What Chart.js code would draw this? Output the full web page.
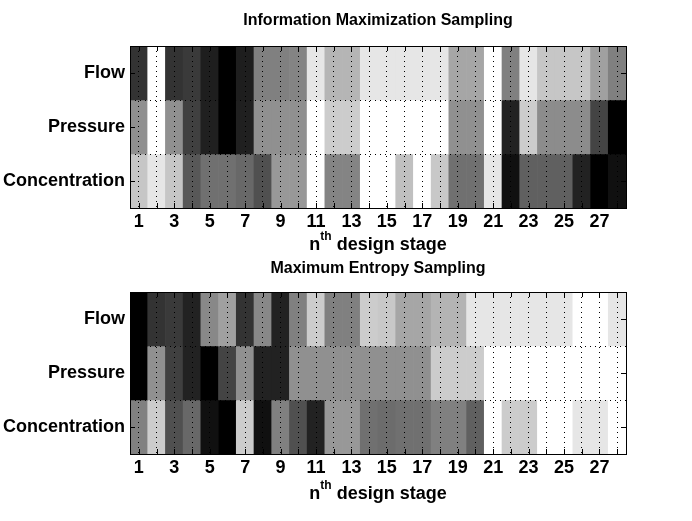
<!DOCTYPE html>
<html>
<head>
<meta charset="utf-8">
<script src="https://cdn.jsdelivr.net/npm/chart.js@4.4.1/dist/chart.umd.min.js"></script>
<style>
  html, body { margin: 0; padding: 0; background: #fff; }
  canvas { display: block; }
</style>
</head>
<body>
<canvas id="imsChart" width="692" height="255"></canvas>
<canvas id="mesChart" width="692" height="266"></canvas>
<script>
// design stages (x categories) and rows (y categories)
const stages = ['1','2','3','4','5','6','7','8','9','10','11','12','13','14',
                '15','16','17','18','19','20','21','22','23','24','25','26','27','28'];
const rowLabels = ['Flow', 'Pressure', 'Concentration'];

// gray level per cell (0 = black, 255 = white)
// Information Maximization Sampling
const imsFlow          = [51,255,51,58,30,0,30,128,128,132,230,181,181,230,230,230,230,230,166,166,255,128,230,198,198,198,160,128];
const imsPressure      = [144,255,144,64,32,0,32,144,144,144,255,204,204,255,255,255,255,255,144,144,255,34,204,140,140,140,68,0];
const imsConcentration = [198,230,198,88,112,112,104,80,152,152,255,132,132,255,255,192,255,200,112,112,230,16,96,96,96,34,0,16];

// Maximum Entropy Sampling
const mesFlow          = [0,51,58,34,136,160,51,136,34,128,204,128,128,204,200,166,166,180,180,230,230,230,230,230,230,255,255,230];
const mesPressure      = [0,144,64,34,0,68,144,34,34,144,144,144,144,144,144,144,144,204,204,204,255,255,255,255,255,255,255,255];
const mesConcentration = [128,204,80,104,16,0,204,16,128,80,34,152,152,112,108,112,112,128,128,96,255,204,204,255,255,230,230,255];

const FONT = '"Liberation Sans", Arial, Helvetica, sans-serif';

// box, inward tick marks, title and x label (MATLAB look)
const framePlugin = {
  id: 'frame',
  afterDraw(chart, args, opts) {
    const ctx = chart.ctx;
    const a = chart.chartArea;
    const x = chart.scales.x, y = chart.scales.y;
    ctx.save();
    ctx.strokeStyle = '#000';
    ctx.lineWidth = 1;
    ctx.beginPath();
    x.ticks.forEach((t, i) => {
      const px = Math.round(x.getPixelForTick(i)) + 0.5;
      ctx.moveTo(px, a.top); ctx.lineTo(px, a.top + 5);
      ctx.moveTo(px, a.bottom); ctx.lineTo(px, a.bottom - 5);
    });
    [1, 2, 3].forEach(v => {
      const py = Math.round(y.getPixelForValue(v)) + 0.5;
      ctx.moveTo(a.left, py); ctx.lineTo(a.left + 5, py);
      ctx.moveTo(a.right, py); ctx.lineTo(a.right - 5, py);
    });
    ctx.stroke();
    ctx.strokeRect(Math.round(a.left) + 0.5, Math.round(a.top) + 0.5,
                   Math.round(a.right - a.left), Math.round(a.bottom - a.top));

    const cx = (a.left + a.right) / 2;
    ctx.fillStyle = '#000';
    ctx.textBaseline = 'middle';
    ctx.textAlign = 'center';
    ctx.font = 'bold 16px ' + FONT;
    ctx.fillText(opts.title, cx, a.top - opts.titleGap);

    // "n^th design stage"
    const big = 'bold 18px ' + FONT, small = 'bold 12px ' + FONT;
    ctx.font = big;
    const wN = ctx.measureText('n').width;
    const wRest = ctx.measureText(' design stage').width;
    ctx.font = small;
    const wTh = ctx.measureText('th').width;
    const sx = cx - (wN + wTh + wRest) / 2;
    const ly = a.bottom + opts.labelGap;
    ctx.textAlign = 'left';
    ctx.font = big;
    ctx.fillText('n', sx, ly);
    ctx.font = small;
    ctx.fillText('th', sx + wN, ly - 8);
    ctx.font = big;
    ctx.fillText(' design stage', sx + wN + wTh, ly);
    ctx.restore();
  }
};

function makeChart(id, rows, cfg) {
  const datasets = rows.map((vals, r) => ({
    label: rowLabels[r],
    data: vals.map(() => [r + 0.5, r + 1.5]),
    backgroundColor: vals.map(v => 'rgb(' + v + ',' + v + ',' + v + ')'),
    borderWidth: 0,
    barPercentage: 1,
    categoryPercentage: 1,
    grouped: false
  }));

  return new Chart(document.getElementById(id).getContext('2d'), {
    type: 'bar',
    data: { labels: stages, datasets },
    options: {
      responsive: false,
      animation: false,
      layout: { padding: { top: cfg.top, right: 66, left: 0, bottom: 0 } },
      plugins: {
        legend: { display: false },
        tooltip: { enabled: false },
        frame: { title: cfg.title, titleGap: cfg.titleGap, labelGap: cfg.labelGap }
      },
      scales: {
        x: {
          type: 'category',
          offset: true,
          grid: { offset: false, z: 1, color: '#000', lineWidth: 1, drawTicks: false },
          border: { display: false, dash: [1, 4] },
          ticks: {
            autoSkip: false, maxRotation: 0, padding: 3, color: '#000',
            font: { family: FONT, size: 18, weight: 'bold' },
            callback: (v, i) => (i % 2 === 0 ? stages[i] : '')
          },
          afterFit: s => { s.height = cfg.xHeight; }
        },
        y: {
          type: 'linear',
          min: 0.5, max: 3.5,
          reverse: true,
          afterBuildTicks: s => { s.ticks = [1, 1.5, 2, 2.5, 3].map(v => ({ value: v })); },
          grid: {
            drawTicks: false, lineWidth: 1, z: 1,
            color: c => (c.tick && c.tick.value % 1 !== 0 ? '#000' : 'rgba(0,0,0,0)')
          },
          border: { display: false, dash: [1, 4] },
          ticks: {
            padding: 5, color: '#000',
            font: { family: FONT, size: 18, weight: 'bold' },
            callback: v => (v % 1 === 0 ? rowLabels[v - 1] : '')
          },
          afterFit: s => { s.width = 130; }
        }
      }
    },
    plugins: [framePlugin]
  });
}

makeChart('imsChart', [imsFlow, imsPressure, imsConcentration], {
  title: 'Information Maximization Sampling', top: 46, xHeight: 47, titleGap: 25, labelGap: 37
});
makeChart('mesChart', [mesFlow, mesPressure, mesConcentration], {
  title: 'Maximum Entropy Sampling', top: 37, xHeight: 67, titleGap: 23, labelGap: 40
});
</script>
</body>
</html>
